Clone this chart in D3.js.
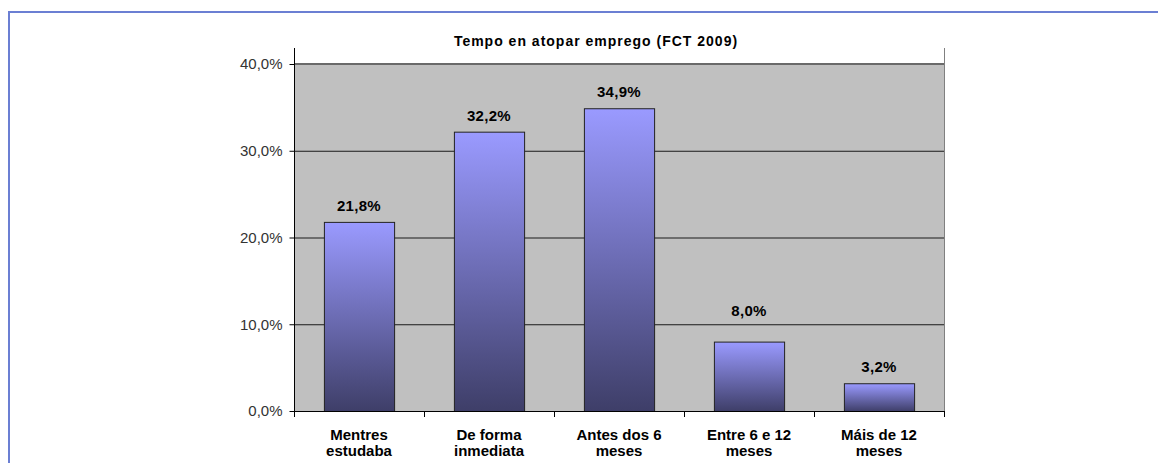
<!DOCTYPE html>
<html>
  <head>
    <title>Tempo en atopar emprego</title>
    <script src="https://d3js.org/d3.v7.min.js"></script>
  </head>
  <style>
    body { margin: 0; background: white; }
    text { font-family: "Liberation Sans", Arial, sans-serif; fill: #000; }
  </style>
  <body>
    <div id="chart"></div>
    <script>
    // data
    var categories = [["Mentres", "estudaba"], ["De forma", "inmediata"], ["Antes dos 6", "meses"], ["Entre 6 e 12", "meses"], ["Máis de 12", "meses"]];
    var values = [21.8, 32.2, 34.9, 8.0, 3.2];
    var yTicks = [0, 10, 20, 30, 40];
    var title = "Tempo en atopar emprego (FCT 2009)";

    var width = 1158, height = 463;
    // plot area edges (note: "top" is reserved on window)
    var plotL = 294, plotR = 944, plotT = 64, plotB = 411;

    var svg = d3.select("#chart").append("svg")
        .attr("width", width)
        .attr("height", height);

    // outer frame (only left/top visible)
    svg.append("rect")
        .attr("x", 9).attr("y", 12)
        .attr("width", 1170).attr("height", 480)
        .attr("fill", "none")
        .attr("stroke", "#6b7fd3")
        .attr("stroke-width", 2);

    var defs = svg.append("defs");
    var grad = defs.append("linearGradient")
        .attr("id", "barGrad")
        .attr("x1", 0).attr("y1", 0).attr("x2", 0).attr("y2", 1);
    grad.append("stop").attr("offset", "0%").attr("stop-color", "#9a9aff");
    grad.append("stop").attr("offset", "100%").attr("stop-color", "#3e3e68");

    var x = d3.scaleBand()
        .domain(d3.range(categories.length))
        .range([plotL, plotR])
        .paddingInner(0.46)
        .paddingOuter(0.23);

    var y = d3.scaleLinear().domain([0, 40]).range([plotB, plotT]);

    // plot area
    svg.append("rect")
        .attr("x", plotL).attr("y", plotT)
        .attr("width", plotR - plotL).attr("height", plotB - plotT)
        .attr("fill", "#c0c0c0");

    // gridlines
    svg.selectAll(".grid")
        .data(yTicks.filter(function(d) { return d > 0 && d < 40; }))
        .enter().append("line")
          .attr("x1", plotL).attr("x2", plotR)
          .attr("y1", function(d) { return y(d) + 0.5; })
          .attr("y2", function(d) { return y(d) + 0.5; })
          .attr("stroke", "#1a1a1a")
          .attr("stroke-width", 1);

    svg.append("line")
        .attr("x1", plotL).attr("x2", plotR)
        .attr("y1", y(40)).attr("y2", y(40))
        .attr("stroke", "#6a6a6a").attr("stroke-width", 2);

    // right edge of plot
    svg.append("line")
        .attr("x1", plotR + 0.5).attr("x2", plotR + 0.5)
        .attr("y1", 48).attr("y2", plotB)
        .attr("stroke", "#808080").attr("stroke-width", 1);

    // bars
    svg.selectAll(".bar")
        .data(values)
        .enter().append("rect")
          .attr("x", function(d, i) { return x(i) + 0.5; })
          .attr("y", function(d) { return y(d) + 0.5; })
          .attr("width", x.bandwidth())
          .attr("height", function(d) { return plotB - y(d); })
          .attr("fill", "url(#barGrad)")
          .attr("stroke", "#222")
          .attr("stroke-width", 1);

    // value labels (the 8,0% one sits higher in the original)
    svg.selectAll(".val")
        .data(values)
        .enter().append("text")
          .attr("x", function(d, i) { return x(i) + x.bandwidth() / 2; })
          .attr("y", function(d, i) { return y(d) - (i === 3 ? 26 : 11); })
          .attr("text-anchor", "middle")
          .style("font-size", "15px")
          .style("font-weight", "bold")
          .style("letter-spacing", "0.3px")
          .text(function(d) { return d.toFixed(1).replace(".", ",") + "%"; });

    // y axis
    var yAxis = d3.axisLeft(y)
        .tickValues(yTicks)
        .tickSize(5)
        .tickPadding(7)
        .tickFormat(function(d) { return d.toFixed(1).replace(".", ",") + "%"; });
    var gy = svg.append("g")
        .attr("transform", "translate(" + (plotL + 0.5) + ",0)")
        .call(yAxis);
    gy.select(".domain").attr("d", "M0,48V" + (plotB + 5)).attr("stroke", "#000");
    gy.selectAll("text").style("font-size", "15px").style("fill", "#333");

    // x axis with ticks at category boundaries
    var bounds = d3.range(categories.length + 1).map(function(i) { return plotL + i * (plotR - plotL) / categories.length; });
    svg.append("line")
        .attr("x1", plotL).attr("x2", plotR + 1)
        .attr("y1", plotB + 0.5).attr("y2", plotB + 0.5)
        .attr("stroke", "#000");
    svg.selectAll(".xtick")
        .data(bounds)
        .enter().append("line")
          .attr("x1", function(d) { return d + 0.5; })
          .attr("x2", function(d) { return d + 0.5; })
          .attr("y1", plotB).attr("y2", plotB + 6)
          .attr("stroke", "#000");

    var xl = svg.selectAll(".xlab")
        .data(categories)
        .enter().append("text")
          .attr("text-anchor", "middle")
          .style("font-size", "15px")
          .style("font-weight", "bold")
          .attr("transform", function(d, i) { return "translate(" + (x(i) + x.bandwidth() / 2) + "," + 440 + ")"; });
    xl.selectAll("tspan")
        .data(function(d) { return d; })
        .enter().append("tspan")
          .attr("x", 0)
          .attr("dy", function(d, i) { return i === 0 ? 0 : 16; })
          .text(function(d) { return d; });

    // title
    svg.append("text")
        .attr("x", 596)
        .attr("y", 46)
        .attr("text-anchor", "middle")
        .style("font-size", "14px")
        .style("font-weight", "bold")
        .style("letter-spacing", "1px")
        .text(title);
    </script>
  </body>
</html>
